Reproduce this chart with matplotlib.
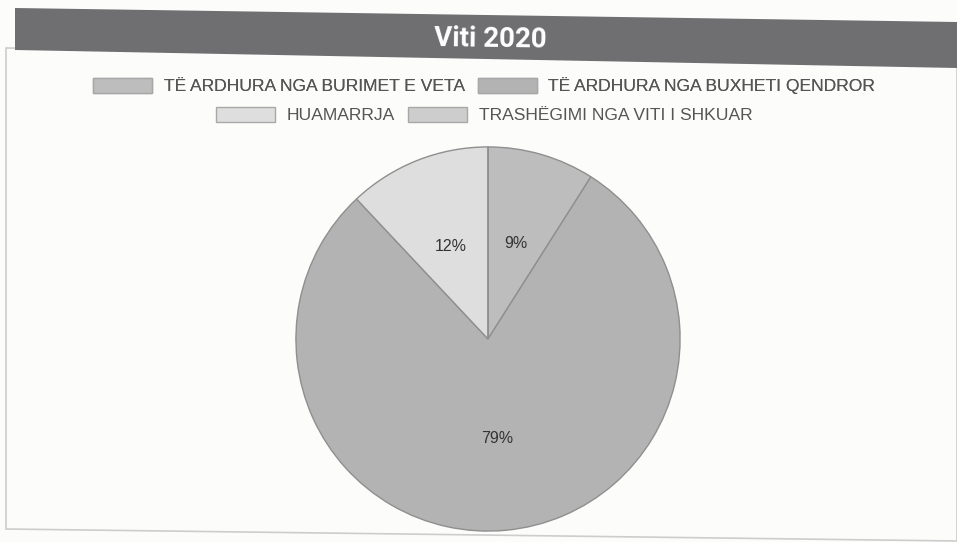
import matplotlib.pyplot as plt
from matplotlib.patches import Polygon, Patch

# data
title = 'Viti 2020'
labels = ['TË ARDHURA NGA BURIMET E VETA', 'TË ARDHURA NGA BUXHETI QENDROR',
          'HUAMARRJA', 'TRASHËGIMI NGA VITI I SHKUAR']
shares = [9, 79, 12, 0]
colors = ['#bdbdbd', '#b3b3b3', '#dedede', '#cdcdcd']

W, H = 957, 542
fig = plt.figure(figsize=(W / 100, H / 100), dpi=100)
fig.patch.set_facecolor('#fcfcfb')
plt.rcParams['font.family'] = ['Liberation Sans', 'DejaVu Sans']


def px(pts):
    return [(x / W, 1 - y / H) for x, y in pts]


# frame and title band (scan is slightly tilted)
fig.patches.append(Polygon(px([(6, 48), (6, 529), (957, 541), (957, 60)]),
                           closed=True, facecolor='none', edgecolor='#cdcdcd',
                           linewidth=1.2, transform=fig.transFigure))
fig.patches.append(Polygon(px([(15, 8), (957, 22), (957, 68), (15, 50)]),
                           closed=True, facecolor='#6f6f72', edgecolor='none',
                           transform=fig.transFigure))
fig.text(490 / W, 1 - 39 / H, title, color='white', fontsize=20, rotation=-0.8,
         fontweight='bold', ha='center', va='center', family='Roboto')

# pie
cx, cy, r = 488, 339, 194
ax = fig.add_axes([(cx - r) / W, 1 - (cy + r) / H, 2 * r / W, 2 * r / H])


def fmt(p):
    return '%d%%' % round(p) if p > 0 else ''


wedges, _, pcts = ax.pie(shares, colors=colors, startangle=90, counterclock=False,
                         autopct=fmt, pctdistance=0.52,
                         wedgeprops=dict(edgecolor='#8f8f8f', linewidth=1))
for t in pcts:
    t.set_fontsize(11.5)
    t.set_color('#333333')
ax.set_xlim(-1.01, 1.01)
ax.set_ylim(-1.01, 1.01)

# legend in two centred rows
handles = [Patch(facecolor=c, edgecolor='#a8a8a8') for c in colors]
leg_kw = dict(frameon=False, fontsize=12.6, handlelength=3.4, handleheight=0.95,
              columnspacing=0.75, handletextpad=0.65, labelcolor='#555555',
              loc='center', ncol=2)
leg1 = fig.legend(handles[:2], labels[:2], bbox_to_anchor=(484 / W, 1 - 86 / H), **leg_kw)
fig.add_artist(leg1)
fig.legend(handles[2:], labels[2:], bbox_to_anchor=(484 / W, 1 - 115 / H), **leg_kw)

fig.savefig('out.png', dpi=100, facecolor=fig.get_facecolor())
